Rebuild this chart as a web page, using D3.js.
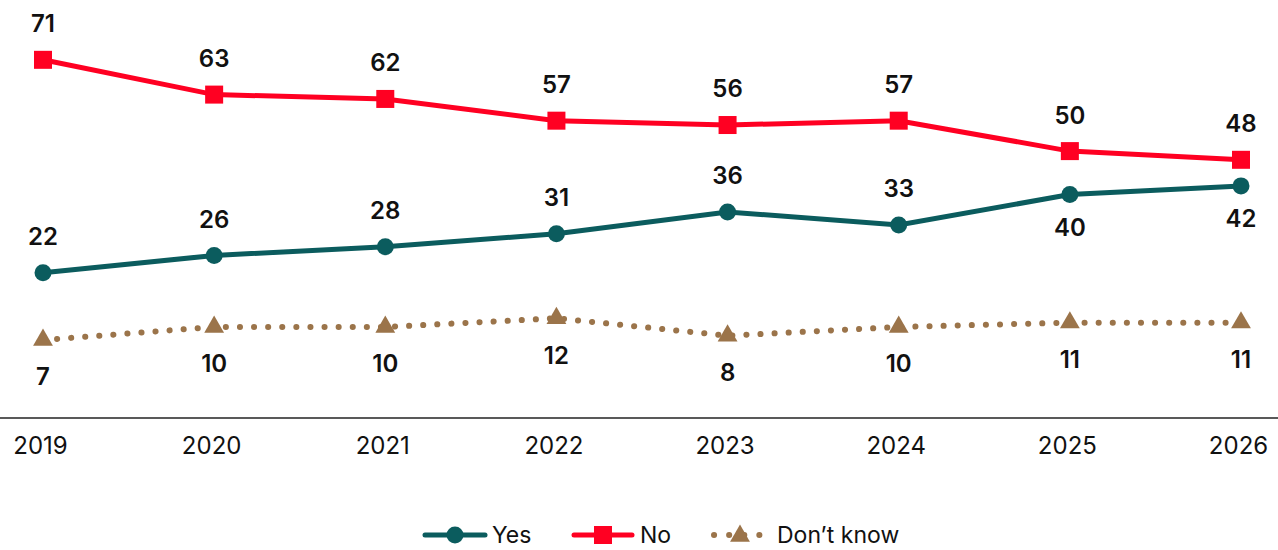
<!DOCTYPE html>
<html><head><meta charset="utf-8">
<script src="https://cdn.jsdelivr.net/npm/d3@7"></script>
<style>body{margin:0;background:#fff;}svg{display:block;font-family:Inter,"Noto Sans",sans-serif;}</style>
</head><body><svg id="c" width="1278" height="550"></svg>
<script>
const years = ["2019","2020","2021","2022","2023","2024","2025","2026"];
const yesValues = [22,26,28,31,36,33,40,42];
const noValues = [71,63,62,57,56,57,50,48];
const dkValues = [7,10,10,12,8,10,11,11];
const yesLabelPos = ["above","above","above","above","above","above","below","below"];

const svg = d3.select("#c");
const x = d3.scalePoint().domain(years).range([43,1241]);
const y = d3.scaleLinear().domain([-11.4,80]).range([418,20.7]);

const colYes="#0b5c5e", colNo="#ff0022", colDk="#9b744a";

svg.append("line").attr("x1",0).attr("x2",1278).attr("y1",418).attr("y2",418).attr("stroke","#222").attr("stroke-width",1.5);
const ax = svg.append("g").attr("transform","translate(-3,418)").call(d3.axisBottom(x).tickSize(0).tickPadding(19));
ax.select(".domain").remove();
ax.selectAll("text").attr("font-size",24).attr("fill","#111").attr("font-family","Inter,'Noto Sans',sans-serif");

const line = d3.line().x((d,i)=>x(years[i])).y(d=>y(d));

svg.append("path").datum(dkValues).attr("d",line).attr("fill","none").attr("stroke",colDk).attr("stroke-width",6).attr("stroke-linecap","round").attr("stroke-dasharray","0.1 14").attr("transform","translate(0,2)");
svg.append("path").datum(yesValues).attr("d",line).attr("fill","none").attr("stroke",colYes).attr("stroke-width",5);
svg.append("path").datum(noValues).attr("d",line).attr("fill","none").attr("stroke",colNo).attr("stroke-width",5);

const tri = d3.symbol().type(d3.symbolTriangle).size(170);
svg.selectAll(".dk").data(dkValues).enter().append("path").attr("transform",(d,i)=>`translate(${x(years[i])},${y(d)+2})`).attr("d",tri).attr("fill",colDk);
svg.selectAll(".yes").data(yesValues).enter().append("circle").attr("cx",(d,i)=>x(years[i])).attr("cy",d=>y(d)).attr("r",8.5).attr("fill",colYes);
svg.selectAll(".no").data(noValues).enter().append("rect").attr("x",(d,i)=>x(years[i])-9).attr("y",d=>y(d)-9).attr("width",18).attr("height",18).attr("fill",colNo);

function labels(vals, posFn, off){
  svg.append("g").selectAll("text").data(vals).enter().append("text")
    .attr("x",(d,i)=>x(years[i])).attr("y",(d,i)=>y(d)+(posFn(i)==="above"?-36:off))
    .attr("dy","0.35em").attr("text-anchor","middle").attr("font-size",24).attr("font-weight",600).attr("fill","#111").text(d=>d);
}
labels(noValues, ()=>"above", 36);
labels(yesValues, i=>yesLabelPos[i], 33);
labels(dkValues, ()=>"below", 39);

// legend
const ly=535;
const lg = svg.append("g");
lg.append("line").attr("x1",425).attr("x2",485).attr("y1",ly).attr("y2",ly).attr("stroke",colYes).attr("stroke-width",5).attr("stroke-linecap","round");
lg.append("circle").attr("cx",455).attr("cy",ly).attr("r",8.5).attr("fill",colYes);
lg.append("text").attr("x",492).attr("y",ly).attr("dy","0.35em").attr("font-size",23).attr("fill","#111").text("Yes");
lg.append("line").attr("x1",574).attr("x2",632).attr("y1",ly).attr("y2",ly).attr("stroke",colNo).attr("stroke-width",5).attr("stroke-linecap","round");
lg.append("rect").attr("x",594).attr("y",ly-9).attr("width",18).attr("height",18).attr("fill",colNo);
lg.append("text").attr("x",640).attr("y",ly).attr("dy","0.35em").attr("font-size",23).attr("fill","#111").text("No");
lg.append("line").attr("x1",714).attr("x2",760).attr("y1",ly).attr("y2",ly).attr("stroke",colDk).attr("stroke-width",6).attr("stroke-linecap","round").attr("stroke-dasharray","0.1 15");
lg.append("path").attr("transform",`translate(740,${ly+1})`).attr("d",tri).attr("fill",colDk);
lg.append("text").attr("x",777).attr("y",ly).attr("dy","0.35em").attr("font-size",23).attr("fill","#111").text("Don’t know");
</script></body></html>
